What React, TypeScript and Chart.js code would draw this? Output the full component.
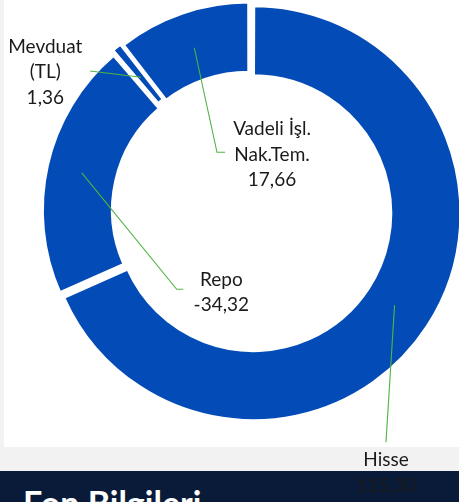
import React, { useEffect, useRef } from "react";
import { Chart, registerables } from "chart.js";

Chart.register(...registerables);

// ---- data ----
const categories: string[][] = [["Hisse"], ["Repo"], ["Mevduat", "(TL)"], ["Vadeli İşl.", "Nak.Tem."]];
const values: number[] = [115.3, -34.32, 1.36, 17.66];

// ---- styles ----
const BLUE = "#034BB6";
const LEADER = "#4fb543";
const TEXT = "#1a1a1a";
const NAVY = "#0a1b39";
const FONT = "19px Lato";
const LINE = 25.6;
const CAP = 13.6;

// label centres relative to doughnut centre, leader end relative to label centre
const labelLayout = [
  { dx: 136, dy: 261.1, end: [0, -30], elbow: 0 },
  { dx: -28.7, dy: 80.5, end: [-38, -2.2], elbow: -6.6 },
  { dx: -204.7, dy: -139.6, end: [44.7, -0.4], elbow: 0 },
  { dx: 22, dy: -57.1, end: [-47, -1.6], elbow: -8 },
];

const fmt = (v: number) => v.toFixed(2).replace(".", ",");

const labelPlugin = {
  id: "leaderLabels",
  afterDatasetsDraw(chart: any) {
    const ctx = chart.ctx as CanvasRenderingContext2D;
    const meta = chart.getDatasetMeta(0);
    meta.data.forEach((arc: any, i: number) => {
      const { x, y, startAngle, endAngle, innerRadius, outerRadius } = arc.getProps(
        ["x", "y", "startAngle", "endAngle", "innerRadius", "outerRadius"],
        true
      );
      const mid = (startAngle + endAngle) / 2;
      const shift = (arc.options.offset || 0) / 4;
      const r = (innerRadius + outerRadius) / 2 + shift;
      const sx = x + Math.cos(mid) * r;
      const sy = y + Math.sin(mid) * r;
      const L = labelLayout[i];
      const lx = x + L.dx;
      const ly = y + L.dy;
      const ex = lx + L.end[0];
      const ey = ly + L.end[1];
      ctx.save();
      ctx.strokeStyle = LEADER;
      ctx.lineWidth = 1.1;
      ctx.beginPath();
      ctx.moveTo(sx, sy);
      if (L.elbow) ctx.lineTo(ex + L.elbow, ey);
      ctx.lineTo(ex, ey);
      ctx.stroke();
      const lines = [...categories[i], fmt(values[i])];
      ctx.font = FONT;
      ctx.fillStyle = TEXT;
      ctx.textAlign = "center";
      ctx.textBaseline = "alphabetic";
      const n = lines.length;
      lines.forEach((t, k) => {
        const cy = ly + (k - (n - 1) / 2) * LINE;
        ctx.fillText(t, lx, cy + CAP / 2);
      });
      ctx.restore();
    });
  },
};

export default function App() {
  const ref = useRef<HTMLCanvasElement | null>(null);
  useEffect(() => {
    if (!ref.current) return;
    const chart = new Chart(ref.current, {
      type: "doughnut",
      data: {
        labels: categories.map((c) => c.join(" ")),
        datasets: [
          {
            data: values.map((v) => Math.abs(v)),
            backgroundColor: BLUE,
            borderColor: "#ffffff",
            borderWidth: 2.5,
            borderJoinStyle: "miter",
            offset: 16,
            hoverOffset: 0,
          } as any,
        ],
      },
      options: {
        responsive: false,
        animation: false,
        events: [],
        radius: 203.3,
        cutout: "65.76%",
        layout: { padding: { left: 41, right: 0, top: 0, bottom: 80 } },
        plugins: { legend: { display: false }, tooltip: { enabled: false } },
      } as any,
      plugins: [labelPlugin],
    });
    return () => chart.destroy();
  }, []);

  return (
    <div
      style={{
        position: "absolute",
        left: 0,
        top: 0,
        width: 459,
        height: 502,
        background: "#f2f2f2",
        overflow: "hidden",
      }}
    >
      <div style={{ position: "absolute", left: 4, top: 0, width: 455, height: 447, background: "#ffffff" }} />
      <div style={{ position: "absolute", left: 0, top: 471, width: 459, height: 31, background: NAVY }} />
      <div
        style={{
          position: "absolute",
          left: 23,
          top: 486.2,
          color: "#ffffff",
          fontFamily: "Lato",
          fontWeight: 700,
          fontSize: 34,
          lineHeight: "34px",
          whiteSpace: "nowrap",
        }}
      >
        Fon Bilgileri
      </div>
      <canvas ref={ref} width={459} height={502} style={{ position: "absolute", left: 0, top: 0 }} />
    </div>
  );
}
